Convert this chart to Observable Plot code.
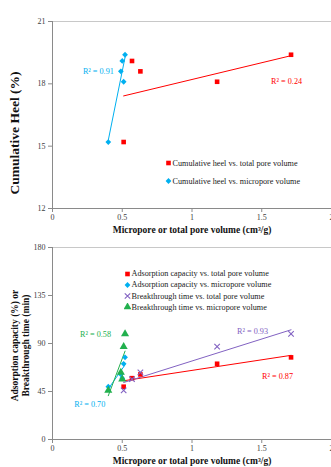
<!DOCTYPE html>
<html><head><meta charset="utf-8">
<script src="https://cdn.jsdelivr.net/npm/d3@7"></script>
<script src="https://cdn.jsdelivr.net/npm/@observablehq/plot@0.6"></script>
<style>
body{margin:0;background:#fff;}
#wrap{position:relative;width:331px;height:467px;overflow:hidden;font-family:"Liberation Serif","Times New Roman",serif;}
#wrap svg.chart{display:block;}
#wrap svg.chart text{font-family:"Liberation Serif","Times New Roman",serif;}
.leg{position:absolute;font-size:8.2px;color:#222;white-space:nowrap;display:flex;align-items:center;height:10px;}
.leg svg{display:block;margin-right:1px;}
</style></head><body><div id="wrap"></div>
<script>
// ---- data ----
const totalPore = [0.51, 0.57, 0.63, 1.18, 1.71];   // cm3/g
const microPore = [0.40, 0.50, 0.49, 0.51, 0.52];   // cm3/g
const heel = [15.2, 19.1, 18.6, 18.1, 19.4];        // %
const adsorption = [49.5, 57.5, 61, 71, 77];        // %
const breakthrough = [46, 56.5, 63, 87, 99];        // min
const xTicks = [0, 0.5, 1, 1.5, 2];
const yTicksTop = [12, 15, 18, 21];
const yTicksBottom = [0, 45, 90, 135, 180];
const topLegend = ["Cumulative heel vs. total pore volume", "Cumulative heel vs. micropore volume"];
const bottomLegend = ["Adsorption capacity vs. total pore volume", "Adsorption capacity vs. micropore volume",
  "Breakthrough time vs. total pore volume", "Breakthrough time vs. micropore volume"];
const r2Top = ["R² = 0.24", "R² = 0.91"];
const r2Bottom = ["R² = 0.87", "R² = 0.70", "R² = 0.93", "R² = 0.58"];
const xTitle = "Micropore or total pore volume (cm³/g)";

const RED = "#FF0000", BLUE = "#00B0F0", PURPLE = "#8262C2", GREEN = "#22B04E";
const FONT = "'Liberation Serif', 'Times New Roman', serif";

const pts = (xs, ys) => xs.map((x, i) => ({x, y: ys[i]}));
const heelTotal = pts(totalPore, heel), heelMicro = pts(microPore, heel);
const adsTotal = pts(totalPore, adsorption), adsMicro = pts(microPore, adsorption);
const btTotal = pts(totalPore, breakthrough), btMicro = pts(microPore, breakthrough);
const byX = (arr, v) => arr.filter(d => d.x === v);

function frame(yDom, yTicks) {
  return [
    Plot.ruleY([yDom[1]], {stroke: "#c8c8c8", strokeWidth: 1}),
    Plot.axisY({ticks: yTicks, tickSize: 4, tickPadding: 3, label: null, stroke: "#8a8a8a", fill: "#404040", fontSize: 8}),
    Plot.axisX({ticks: xTicks, tickSize: 4, tickPadding: 2, label: null, stroke: "#8a8a8a", fill: "#404040", fontSize: 8, tickFormat: d => String(d)}),
    Plot.ruleX([0], {stroke: "#8a8a8a"}),
    Plot.ruleY([yDom[0]], {stroke: "#8a8a8a"}),
    Plot.text([xTitle], {frameAnchor: "bottom", textAnchor: "middle", lineAnchor: "middle", dy: 21, fontWeight: "bold", fontSize: 9.5, fill: "#111"})
  ];
}

const dotR = {square: 2.6, diamond: 2.3, times: 2.6, triangle: 3.0};

const topPlot = Plot.plot({
  width: 331, height: 235, marginLeft: 52, marginRight: 0, marginTop: 21, marginBottom: 27,
  style: {fontFamily: FONT, overflow: "visible", background: "transparent"},
  x: {domain: [0, 2]}, y: {domain: [12, 21]},
  marks: [
    ...frame([12, 21], yTicksTop),
    Plot.text(["Cumulative Heel (%)"], {frameAnchor: "left", textAnchor: "middle", lineAnchor: "middle", rotate: -90, dx: -38, dy: 18, fontWeight: "bold", fontSize: 13.5, fill: "#111"}),
    Plot.linearRegressionY(heelTotal, {x: "x", y: "y", stroke: RED, strokeWidth: 1, ci: 0}),
    Plot.linearRegressionY(heelMicro, {x: "x", y: "y", stroke: BLUE, strokeWidth: 1, ci: 0}),
    Plot.dot(heelTotal, {x: "x", y: "y", symbol: "square", r: dotR.square, fill: RED}),
    Plot.dot(heelMicro, {x: "x", y: "y", symbol: "square", rotate: 45, r: dotR.diamond, fill: BLUE}),
    Plot.text(byX(heelTotal, 1.18), {x: "x", y: "y", text: () => r2Top[0], textAnchor: "start", dx: 54, fill: RED, fontSize: 8.2}),
    Plot.text(byX(heelMicro, 0.49), {x: "x", y: "y", text: () => r2Top[1], textAnchor: "end", dx: -7, fill: BLUE, fontSize: 8.2})
  ]
});
topPlot.classList.add("chart");

const bottomPlot = Plot.plot({
  width: 331, height: 232, marginLeft: 52, marginRight: 0, marginTop: 12, marginBottom: 28,
  style: {fontFamily: FONT, overflow: "visible", background: "transparent"},
  x: {domain: [0, 2]}, y: {domain: [0, 180]},
  marks: [
    ...frame([0, 180], yTicksBottom),
    Plot.text(["Adsorption capacity (%) or\nBreakthrough time (min)"], {frameAnchor: "left", textAnchor: "middle", lineAnchor: "middle", rotate: -90, dx: -32.5, dy: 2, lineHeight: 1.15, fontWeight: "bold", fontSize: 9.5, fill: "#111"}),
    Plot.linearRegressionY(adsTotal, {x: "x", y: "y", stroke: RED, strokeWidth: 1, ci: 0}),
    Plot.linearRegressionY(adsMicro, {x: "x", y: "y", stroke: BLUE, strokeWidth: 1, ci: 0}),
    Plot.linearRegressionY(btTotal, {x: "x", y: "y", stroke: PURPLE, strokeWidth: 1, ci: 0}),
    Plot.linearRegressionY(btMicro, {x: "x", y: "y", stroke: GREEN, strokeWidth: 1, ci: 0}),
    Plot.dot(adsTotal, {x: "x", y: "y", symbol: "square", r: dotR.square, fill: RED}),
    Plot.dot(adsMicro, {x: "x", y: "y", symbol: "square", rotate: 45, r: dotR.diamond, fill: BLUE}),
    Plot.dot(btTotal, {x: "x", y: "y", symbol: "times", r: dotR.times, stroke: PURPLE, strokeWidth: 1.1}),
    Plot.dot(btMicro, {x: "x", y: "y", symbol: "triangle", r: dotR.triangle, fill: GREEN}),
    Plot.text(byX(adsTotal, 1.71), {x: "x", y: "y", text: () => r2Bottom[0], textAnchor: "end", dx: 2, dy: 19, fill: RED, fontSize: 8.2}),
    Plot.text(byX(adsMicro, 0.40), {x: "x", y: "y", text: () => r2Bottom[1], textAnchor: "end", dx: -3, dy: 18, fill: BLUE, fontSize: 8.2}),
    Plot.text(byX(btTotal, 1.71), {x: "x", y: "y", text: () => r2Bottom[2], textAnchor: "end", dx: -23, dy: -3, fill: PURPLE, fontSize: 8.2}),
    Plot.text(byX(btMicro, 0.52), {x: "x", y: "y", text: () => r2Bottom[3], textAnchor: "end", dx: -14, fill: GREEN, fontSize: 8.2})
  ]
});
bottomPlot.classList.add("chart");

const wrap = document.getElementById("wrap");
wrap.appendChild(topPlot);
wrap.appendChild(bottomPlot);

// legends (HTML overlays)
const symMap = {square: [d3.symbolSquare, dotR.square, 0], diamond: [d3.symbolSquare, dotR.diamond, 45], times: [d3.symbolTimes, dotR.times, 0], triangle: [d3.symbolTriangle, dotR.triangle, 0]};
function addLegend(labels, symbols, colors, left, top, step) {
  labels.forEach((lab, i) => {
    const row = document.createElement("div");
    row.className = "leg";
    row.style.left = left + "px";
    row.style.top = (top + i * step - 5) + "px";
    const [type, r, rot] = symMap[symbols[i]];
    const svg = d3.create("svg").attr("width", 7).attr("height", 8);
    const p = svg.append("path").attr("transform", `translate(3.5,4) rotate(${rot})`).attr("d", d3.symbol(type, r * r * Math.PI)());
    if (symbols[i] === "times") p.attr("fill", "none").attr("stroke", colors[i]).attr("stroke-width", 1.1);
    else p.attr("fill", colors[i]);
    row.appendChild(svg.node());
    const t = document.createElement("span");
    t.textContent = lab;
    row.appendChild(t);
    wrap.appendChild(row);
  });
}
addLegend(topLegend, ["square", "diamond"], [RED, BLUE], 164.5, 163, 18);
addLegend(bottomLegend, ["square", "diamond", "times", "triangle"], [RED, BLUE, PURPLE, GREEN], 123.5, 273.5, 11.3);
</script>
</body></html>
